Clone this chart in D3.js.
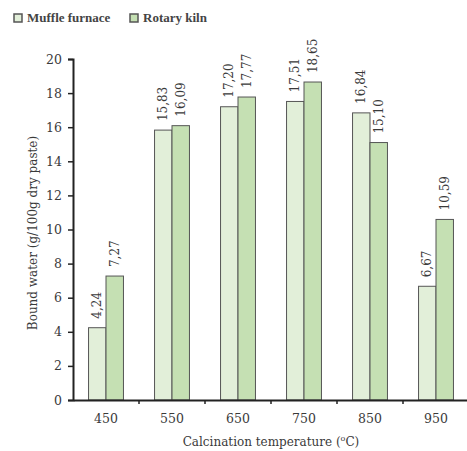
<!DOCTYPE html>
<html><head><meta charset="utf-8">
<script src="https://cdnjs.cloudflare.com/ajax/libs/d3/7.8.5/d3.min.js"></script>
<style>body{margin:0;background:#fff}svg{display:block}</style>
</head><body>
<svg id="c" width="467" height="451"></svg>
<script>
const categories = ["450","550","650","750","850","950"];
const seriesNames = ["Muffle furnace","Rotary kiln"];
const muffle = [4.24, 15.83, 17.20, 17.51, 16.84, 6.67];
const rotary = [7.27, 16.09, 17.77, 18.65, 15.10, 10.59];
const yTicks = [0,2,4,6,8,10,12,14,16,18,20];
const colors = ["#e2efd9","#c5e0b3"];
const font = "'DejaVu Serif', serif";
const lfont = "'Liberation Serif', serif";
const txt = "#3a3a3a";

const svg = d3.select("#c");
const x = d3.scaleBand().domain(categories).range([73,469]).paddingInner(0).paddingOuter(0);
const x1 = d3.scaleBand().domain([0,1]).range([0, x.bandwidth()]).paddingOuter(0.89).paddingInner(0);
const y = d3.scaleLinear().domain([0,20]).range([400,59]);

// y axis
const ya = svg.append("g").attr("transform","translate(73,0)")
  .call(d3.axisLeft(y).tickValues(yTicks).tickSize(5).tickPadding(6));
ya.select(".domain").attr("stroke","#222").attr("stroke-width",2);
ya.selectAll(".tick line").attr("stroke","#222").attr("stroke-width",1.5);
ya.selectAll("text").attr("font-family",font).attr("font-size",12.5).attr("fill",txt);

// bars
const data = [muffle, rotary];
const g = svg.append("g");
categories.forEach((c,i)=>{
  data.forEach((s,k)=>{
    const bx = x(c)+x1(k), bw = x1.bandwidth();
    g.append("rect").attr("x",bx).attr("y",y(s[i])).attr("width",bw)
     .attr("height",y(0)-y(s[i])).attr("fill",colors[k]).attr("stroke","#555").attr("stroke-width",1);
    const cx = bx+bw/2, ty = y(s[i])-9;
    g.append("text").attr("transform",`translate(${cx+4},${ty}) rotate(-90)`)
     .attr("font-family",font).attr("font-size",12).attr("fill",txt)
     .text(s[i].toFixed(2).replace(".",","));
  });
});

// x axis
const xa = svg.append("g").attr("transform","translate(0,400)")
  .call(d3.axisBottom(x).tickSize(0).tickPadding(14));
xa.select(".domain").attr("stroke","#222").attr("stroke-width",2);
xa.selectAll("text").attr("font-family",font).attr("font-size",12.5).attr("fill",txt);
xa.selectAll(".btick").data(categories.slice(1)).enter().append("line")
  .attr("x1",d=>x(d)).attr("x2",d=>x(d)).attr("y1",0).attr("y2",4)
  .attr("stroke","#222").attr("stroke-width",1.5);

// axis titles
svg.append("text").attr("transform","translate(37,233) rotate(-90)").attr("text-anchor","middle")
  .attr("font-family",font).attr("font-size",12).attr("fill",txt)
  .text("Bound water (g/100g dry paste)");
const xt = svg.append("text").attr("x",271).attr("y",446).attr("text-anchor","middle")
  .attr("font-family",font).attr("font-size",12).attr("fill",txt);
xt.append("tspan").text("Calcination temperature (");
xt.append("tspan").attr("font-size",8).attr("dy",-5).text("o");
xt.append("tspan").attr("dy",5).text("C)");

// legend
const lg = svg.append("g");
const lx = [14, 130];
seriesNames.forEach((n,k)=>{
  lg.append("rect").attr("x",lx[k]).attr("y",14).attr("width",8).attr("height",8)
    .attr("fill",colors[k]).attr("stroke","#555").attr("stroke-width",1.5);
  lg.append("text").attr("x",lx[k]+13).attr("y",22).attr("font-family",lfont)
    .attr("font-size",13).attr("font-weight","bold").attr("fill","#444").text(n);
});
</script>
</body></html>
